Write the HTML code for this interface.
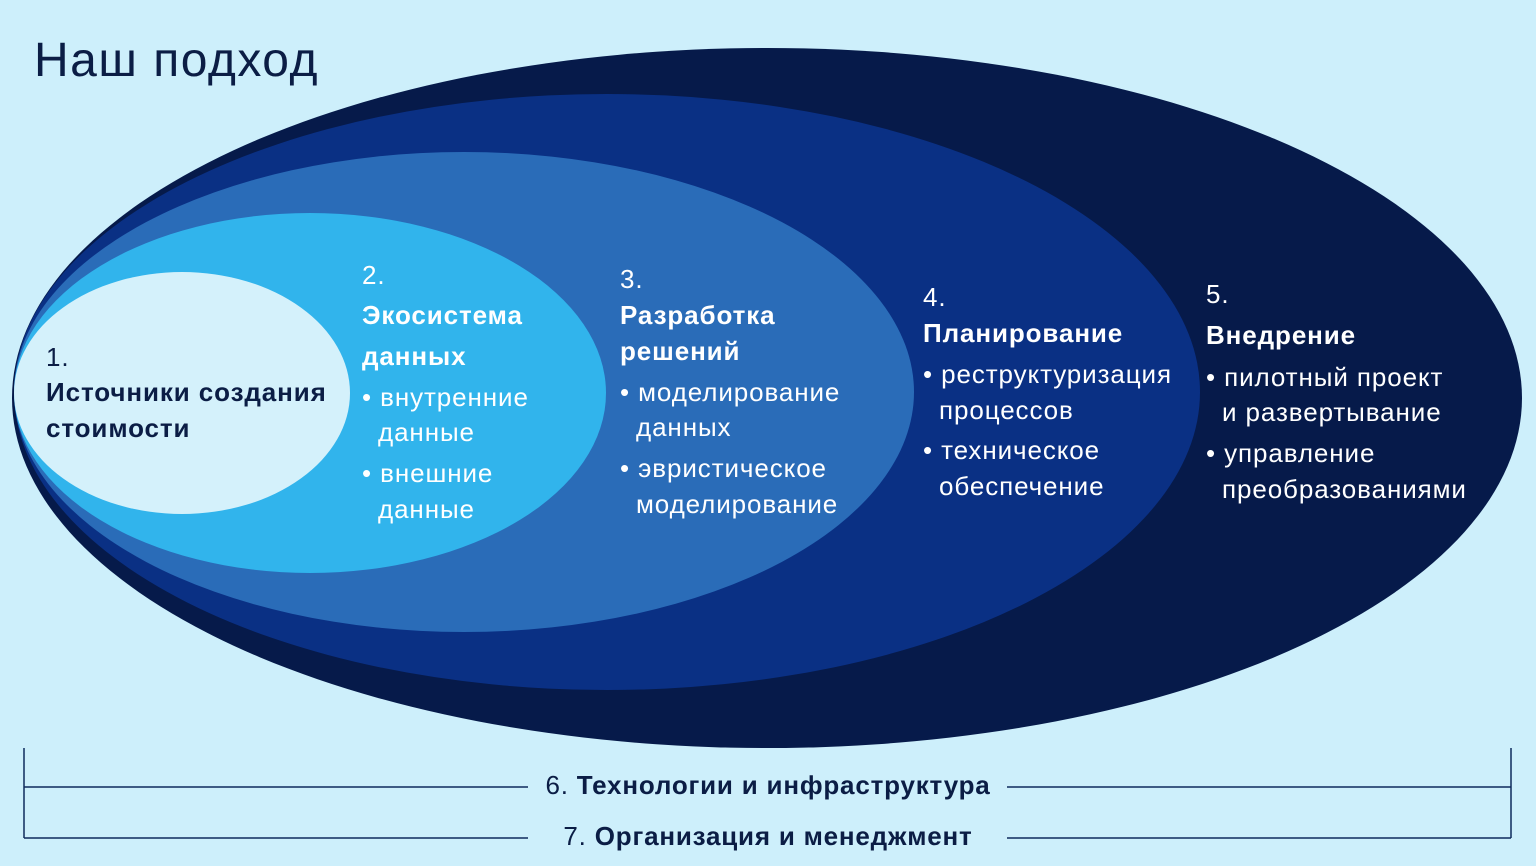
<!DOCTYPE html>
<html><head><meta charset="utf-8"><style>
html,body{margin:0;padding:0;background:#cdeffb;}
svg{display:block;font-family:"Liberation Sans",sans-serif;}
.w{fill:#fff;font-size:26px;letter-spacing:0.9px;}
.b{font-weight:bold;}
.d{fill:#0b1d45;}
</style></head><body>
<svg width="1536" height="866" viewBox="0 0 1536 866">
<rect width="1536" height="866" fill="#cdeffb"/>
<text x="34" y="76" font-size="48" letter-spacing="1.5" class="d">Наш подход</text>
<ellipse cx="767" cy="398" rx="755" ry="350" fill="#061a4a"/>
<ellipse cx="607" cy="392" rx="593" ry="298" fill="#0a3084"/>
<ellipse cx="464" cy="392" rx="450" ry="240" fill="#2a6cb8"/>
<ellipse cx="310" cy="393" rx="296" ry="180" fill="#31b4ec"/>
<ellipse cx="182" cy="393" rx="168" ry="121" fill="#d4f1fb"/>
<g class="d" font-size="26" letter-spacing="0.9">
<text x="46" y="366">1.</text>
<text x="46" y="401" class="b">Источники создания</text>
<text x="46" y="437" class="b">стоимости</text>
</g>
<g class="w">
<text x="362" y="284">2.</text>
<text x="362" y="324" class="b">Экосистема</text>
<text x="362" y="365" class="b">данных</text>
<text x="362" y="406">• внутренние</text>
<text x="378" y="441">данные</text>
<text x="362" y="482">• внешние</text>
<text x="378" y="518">данные</text>
<text x="620" y="288">3.</text>
<text x="620" y="324" class="b">Разработка</text>
<text x="620" y="360" class="b">решений</text>
<text x="620" y="401">• моделирование</text>
<text x="636" y="436">данных</text>
<text x="620" y="477">• эвристическое</text>
<text x="636" y="513">моделирование</text>
<text x="923" y="306">4.</text>
<text x="923" y="342" class="b">Планирование</text>
<text x="923" y="383">• реструктуризация</text>
<text x="939" y="419">процессов</text>
<text x="923" y="459">• техническое</text>
<text x="939" y="495">обеспечение</text>
<text x="1206" y="303">5.</text>
<text x="1206" y="344" class="b">Внедрение</text>
<text x="1206" y="386">• пилотный проект</text>
<text x="1222" y="421">и развертывание</text>
<text x="1206" y="462">• управление</text>
<text x="1222" y="498">преобразованиями</text>
</g>
<g stroke="#0f2a5c" stroke-width="1.5" fill="none">
<line x1="24" y1="748" x2="24" y2="838"/>
<line x1="1511" y1="748" x2="1511" y2="838"/>
<line x1="24" y1="787" x2="528" y2="787"/>
<line x1="1007" y1="787" x2="1511" y2="787"/>
<line x1="24" y1="838" x2="528" y2="838"/>
<line x1="1007" y1="838" x2="1511" y2="838"/>
</g>
<g class="d" font-size="26" letter-spacing="0.8" text-anchor="middle">
<text x="768" y="794">6. <tspan class="b">Технологии и инфраструктура</tspan></text>
<text x="768" y="845">7. <tspan class="b">Организация и менеджмент</tspan></text>
</g>
</svg>
</body></html>
